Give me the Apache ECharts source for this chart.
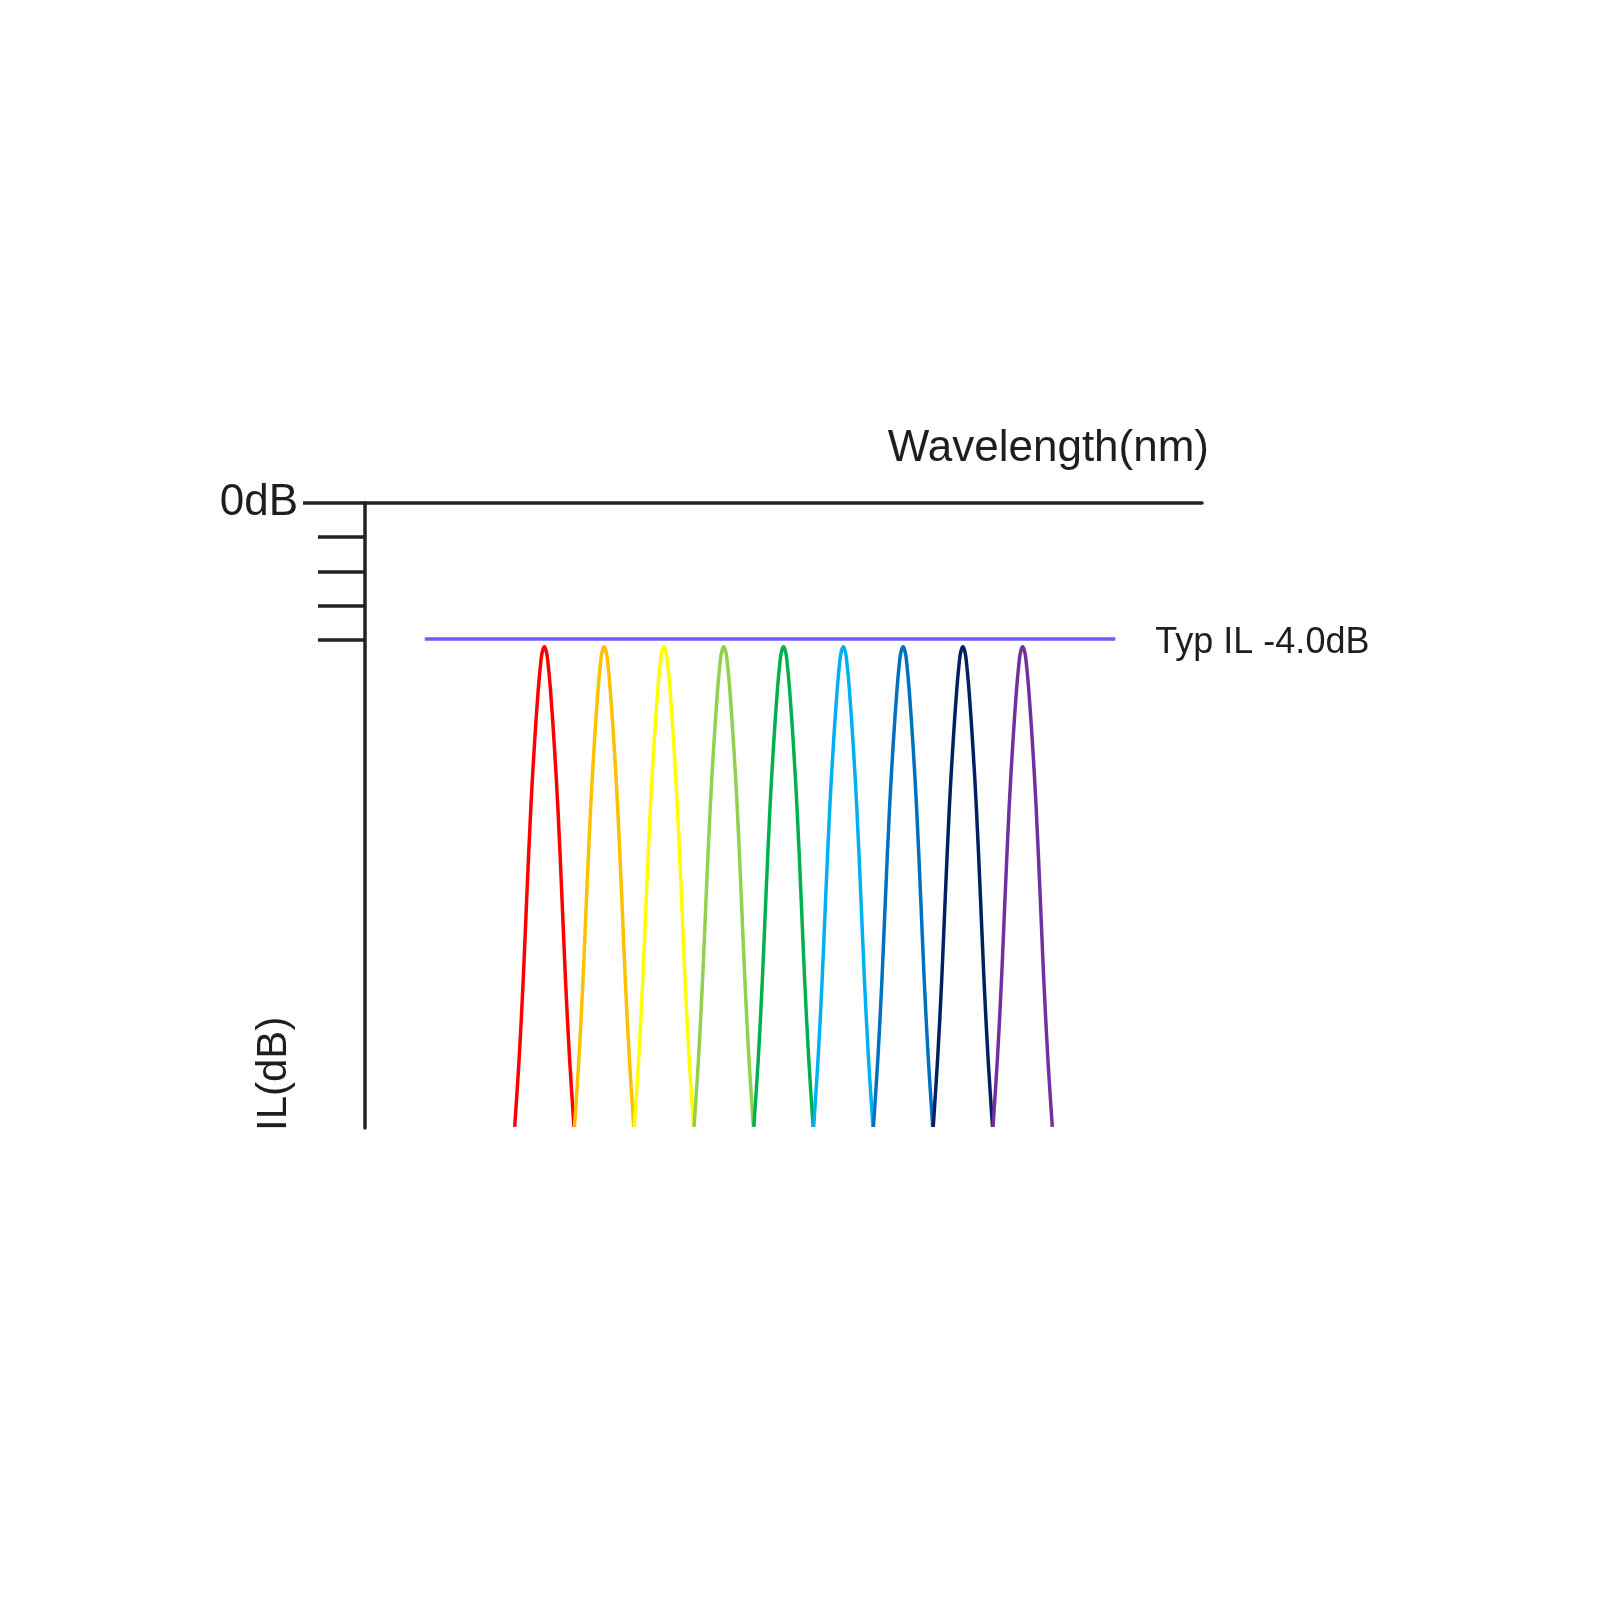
<!DOCTYPE html>
<html>
<head>
<meta charset="utf-8">
<script src="https://cdn.jsdelivr.net/npm/echarts@6/dist/echarts.min.js"></script>
<style>
html,body{margin:0;padding:0;background:#fff;}
#chart{width:1600px;height:1600px;}
</style>
</head>
<body>
<div id="chart"></div>
<script>
// Channel peak centres (x units, one channel spacing = 1)
const channelCenters = [3, 4, 5, 6, 7, 8, 9, 10, 11];
const channelColors = ['#ff0000', '#ffc000', '#ffff00', '#92d050', '#00b050', '#00b0f0', '#0070c0', '#002060', '#7030a0'];
// Passband shape: level (dB) vs half-width (channel units)
const shapeLevels = [-18.22, -16.17, -13.9, -11.5, -8.93, -7.12, -5.43, -4.55, -4.32, -4.2];
const shapeHalfWidths = [0.496, 0.42, 0.353, 0.294, 0.227, 0.168, 0.101, 0.054, 0.031, 0];
// Typical insertion loss reference line
const typILLevel = -3.95;
const typILStart = 1.0;
const typILEnd = 12.55;
const typILLabel = 'Typ IL -4.0dB';
// Axis settings
const yMin = -18.25, yMax = 0;
const yTickValues = [-1, -2, -3, -4];
const xMin = 0, xMax = 14;

const axisColor = '#222222';
const textColor = '#1e1e1e';
const fontFamily = '"Liberation Sans", Arial, sans-serif';

function channelData(c) {
  const pts = [];
  for (let i = 0; i < shapeLevels.length; i++) pts.push([c - shapeHalfWidths[i], shapeLevels[i]]);
  for (let i = shapeLevels.length - 2; i >= 0; i--) pts.push([c + shapeHalfWidths[i], shapeLevels[i]]);
  return pts;
}

const series = channelCenters.map((c, i) => ({
  type: 'line',
  data: channelData(c),
  smooth: 0.35,
  showSymbol: false,
  symbol: 'none',
  lineStyle: { color: channelColors[i], width: 3.5 },
  itemStyle: { color: channelColors[i] },
  z: 3
}));

series.push({
  type: 'line',
  data: [],
  xAxisIndex: 0,
  yAxisIndex: 0,
  markLine: {
    silent: true,
    symbol: ['none', 'none'],
    lineStyle: { color: '#6a5cff', width: 3.5, type: 'solid' },
    label: {
      show: true,
      position: 'end',
      distance: 40,
      offset: [0, 5],
      formatter: typILLabel,
      color: textColor,
      fontSize: 36,
      fontFamily: fontFamily
    },
    data: [[{ coord: [typILStart, typILLevel] }, { coord: [typILEnd, typILLevel] }]]
  },
  z: 4
});

const chart = echarts.init(document.getElementById('chart'), null, { renderer: 'canvas' });
chart.setOption({
  backgroundColor: '#ffffff',
  animation: false,
  grid: { left: 365, right: 398, top: 503, bottom: 472, containLabel: false },
  xAxis: {
    type: 'value',
    position: 'top',
    min: xMin,
    max: xMax,
    name: 'Wavelength(nm)',
    nameLocation: 'end',
    nameGap: 7,
    nameTextStyle: {
      color: textColor,
      fontSize: 44,
      fontFamily: fontFamily,
      align: 'right',
      verticalAlign: 'bottom',
      padding: [0, 0, 32, 0]
    },
    axisLine: { show: true, onZero: false, lineStyle: { color: axisColor, width: 3.5 } },
    axisTick: { show: false },
    axisLabel: { show: false },
    splitLine: { show: false }
  },
  yAxis: [
    {
      type: 'value',
      position: 'left',
      min: yMin,
      max: yMax,
      name: 'IL(dB)',
      nameLocation: 'start',
      nameRotate: 90,
      nameGap: 3,
      nameTextStyle: {
        color: textColor,
        fontSize: 42,
        fontFamily: fontFamily,
        align: 'left',
        verticalAlign: 'bottom',
        padding: [0, 0, 70, 0]
      },
      axisLine: { show: true, onZero: false, lineStyle: { color: axisColor, width: 3.5 } },
      axisTick: { show: true, customValues: yTickValues, length: 47, lineStyle: { color: axisColor, width: 3.5 } },
      axisLabel: { show: false },
      splitLine: { show: false }
    },
    {
      type: 'value',
      position: 'left',
      min: yMin,
      max: yMax,
      axisLine: { show: false },
      axisTick: { show: true, customValues: [0], length: 62, lineStyle: { color: axisColor, width: 3.5 } },
      axisLabel: {
        show: true,
        customValues: [0],
        formatter: () => '0dB',
        margin: 67,
        color: textColor,
        fontSize: 44,
        fontFamily: fontFamily
      },
      splitLine: { show: false }
    }
  ],
  series: series
});
</script>
</body>
</html>
